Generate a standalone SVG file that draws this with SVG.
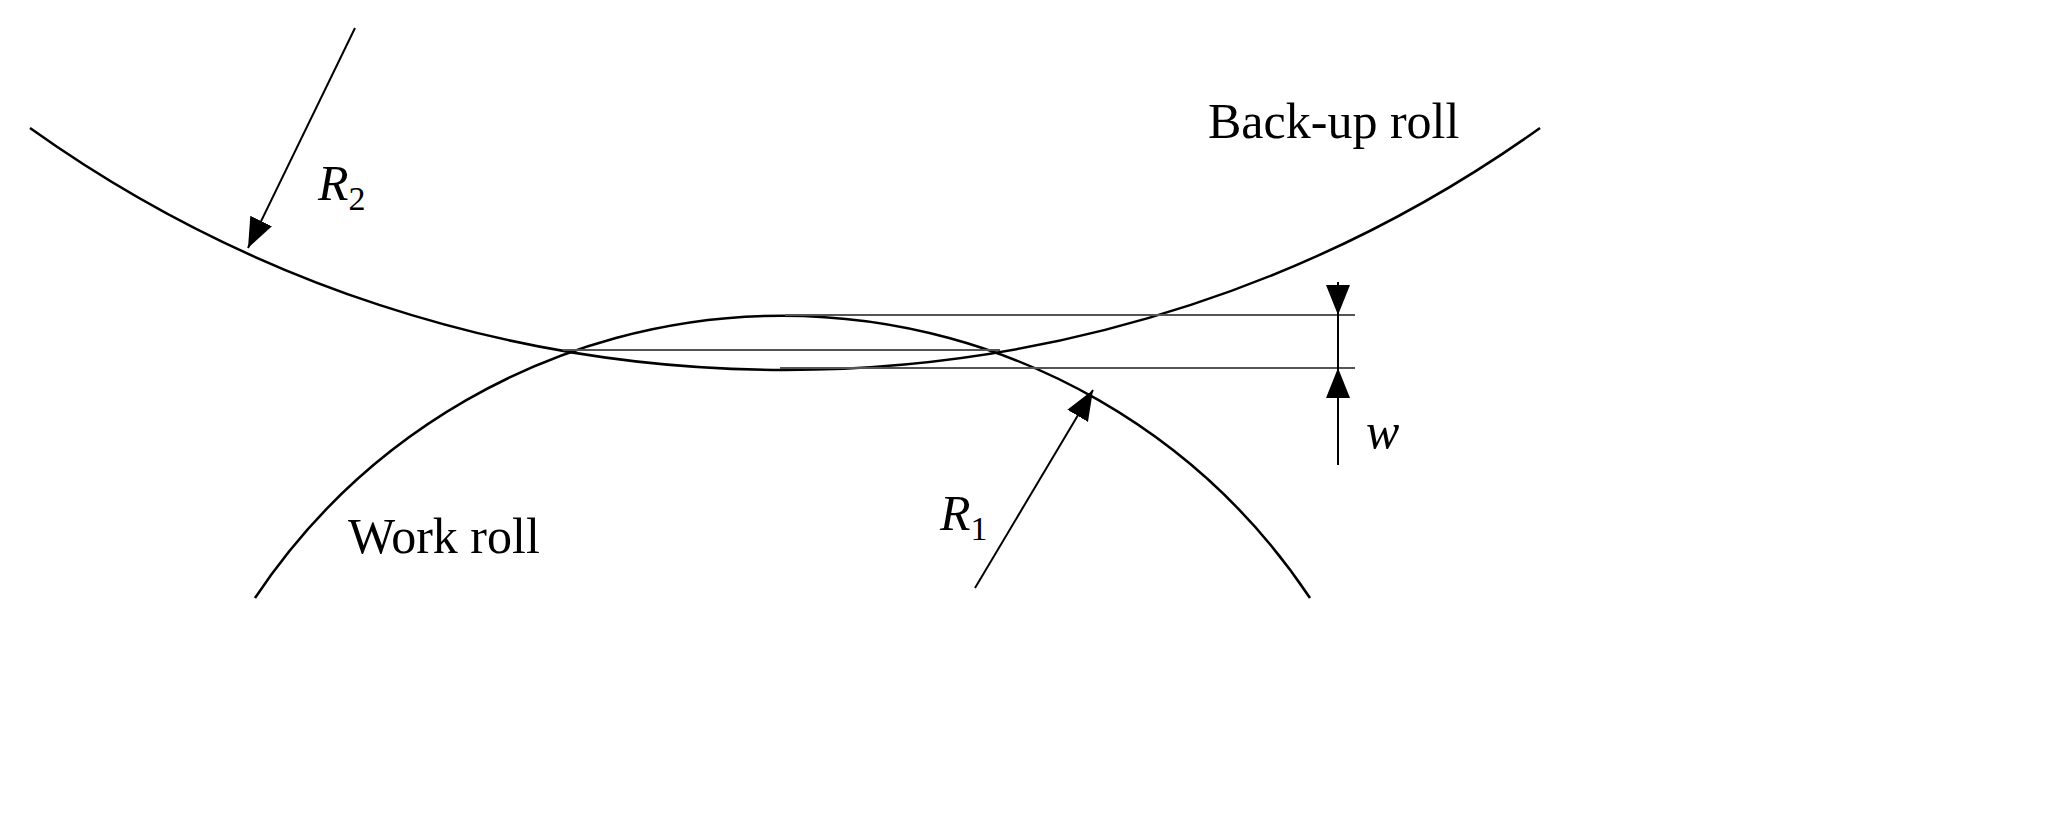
<svg xmlns="http://www.w3.org/2000/svg" width="2048" height="816" viewBox="0 0 2048 816">
<style>
.c{fill:none;stroke:#000;stroke-width:2.5}
.t{fill:none;stroke:#555;stroke-width:2}
.a{stroke:#000;stroke-width:2}
text{font-family:"Liberation Serif",serif;font-size:50px;fill:#000}
.i{font-style:italic}
</style>
<defs>
<marker id="hb" viewBox="0 0 10 10" refX="10" refY="5" markerWidth="30" markerHeight="30" markerUnits="userSpaceOnUse" orient="auto"><path d="M0,1L10,5L0,9z" fill="#000"/></marker></defs>
<g id="backup-roll"><path class="c" d="M30,128 A1299,1299 0 0 0 1540,128"/><text x="1208" y="138">Back-up roll</text></g>
<g id="work-roll"><path class="c" d="M255,598 A634,634 0 0 1 1310,598"/><text x="348" y="553">Work roll</text></g>
<g id="connectors">
<line class="t" x1="785" y1="315" x2="1355" y2="315"/>
<line class="t" x1="563" y1="350" x2="1000" y2="350"/>
<line class="t" x1="780" y1="368" x2="1355" y2="368"/>
<line class="a" x1="1338" y1="282" x2="1338" y2="465"/>
<line class="a" x1="1338" y1="282" x2="1338" y2="315" marker-end="url(#hb)"/>
<line class="a" x1="1338" y1="420" x2="1338" y2="368" marker-end="url(#hb)"/>
<line class="a" x1="355" y1="28" x2="248" y2="248" marker-end="url(#hb)"/>
<line class="a" x1="975" y1="588" x2="1093" y2="390" marker-end="url(#hb)"/>
</g>
<g id="labels">
<text class="i" x="318" y="200">R<tspan font-size="34" dy="10" font-style="normal">2</tspan></text>
<text class="i" x="940" y="530">R<tspan font-size="34" dy="10" font-style="normal">1</tspan></text>
<text class="i" x="1366" y="448">w</text>
</g>
</svg>
